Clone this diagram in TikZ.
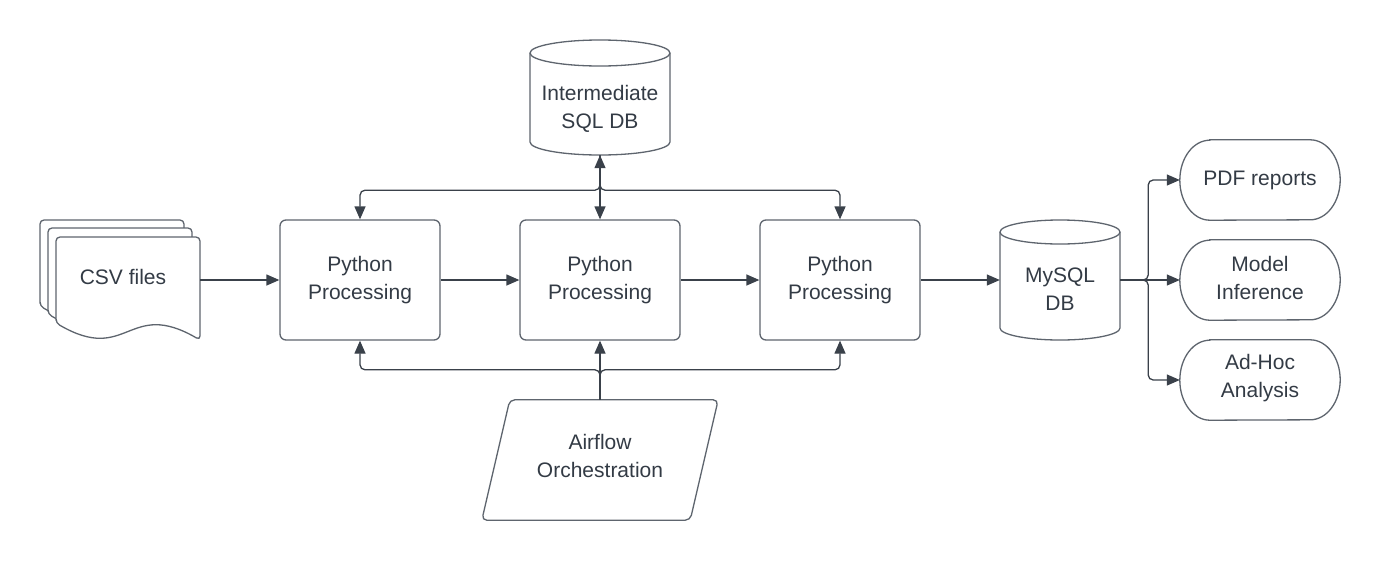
\documentclass[tikz,border=0pt]{standalone}
\usepackage{fontspec}
\setmainfont{Liberation Sans}
\usetikzlibrary{arrows.meta,calc}
\definecolor{linec}{HTML}{3A414A}
\definecolor{boxc}{HTML}{5E656E}
\definecolor{textc}{HTML}{333B45}
\tikzset{
  box/.style={draw=boxc, line width=1.3pt, fill=white},
  frame/.style={draw=none, inner sep=0pt},
  lbl/.style={text=textc, align=center, font=\fontsize{21}{27.5}\selectfont},
  arr/.style={draw=linec, line width=1.3pt, -{Triangle[length=13pt,width=11pt]}},
  arrb/.style={draw=linec, line width=1.3pt, {Triangle[length=13pt,width=11pt]}-{Triangle[length=13pt,width=11pt]}},
}
\newcommand\docshape{%
  \draw[box, rounded corners=4pt] (56,323) -- (56,237) -- (200,237) -- (200,340)
    .. controls (128,298) and (128,365) .. (56,323) -- cycle;}
\newcommand\stadshape[1]{%
  \draw[box] ([xshift=30pt]#1.north west) -- ([xshift=-30pt]#1.north east)
    arc[start angle=90,end angle=-90,x radius=30pt,y radius=40pt]
    -- ([xshift=30pt]#1.south west)
    arc[start angle=270,end angle=90,x radius=30pt,y radius=40pt] -- cycle;}
\newcommand\cylshape[5]{% left right topcenter bottomcenter ry
  \draw[box] (#1,#3) -- (#1,#4) arc[start angle=180,end angle=360,x radius={(#2-#1)/2*1pt},y radius=#5pt]
    -- (#2,#3) arc[start angle=0,end angle=180,x radius={(#2-#1)/2*1pt},y radius=#5pt] -- cycle;
  \draw[draw=boxc, line width=1.3pt] (#1,#3) arc[start angle=180,end angle=360,x radius={(#2-#1)/2*1pt},y radius=#5pt];}
\begin{document}
\begin{tikzpicture}[x=1pt,y=-1pt]
\useasboundingbox[fill=white] (0,0) rectangle (1380,560);

% CSV stack
\begin{scope}[shift={(-16,-17)}]\docshape\end{scope}
\begin{scope}[shift={(-8,-9)}]\docshape\end{scope}
\docshape
\node[frame, minimum width=144pt, minimum height=103pt] (csv) at (128,288.5) {};
\node[lbl] (csvt) at (123,277) {CSV files};

% Python processing boxes
\node[box, rounded corners=6pt, minimum width=160pt, minimum height=120pt, lbl] (p1) at (360,280) {Python\\Processing};
\node[box, rounded corners=6pt, minimum width=160pt, minimum height=120pt, lbl] (p2) at (600,280) {Python\\Processing};
\node[box, rounded corners=6pt, minimum width=160pt, minimum height=120pt, lbl] (p3) at (840,280) {Python\\Processing};

% Intermediate DB
\cylshape{530}{670}{53}{142}{13}
\node[frame, minimum width=140pt, minimum height=115pt] (idb) at (600,97.5) {};
\node[lbl] (idbt) at (600,109) {Intermediate\\SQL DB};

% MySQL DB
\cylshape{1000}{1120}{232}{328}{12}
\node[frame, minimum width=120pt, minimum height=120pt] (mysql) at (1060,280) {};
\node[lbl] (mysqlt) at (1060,289) {MySQL\\DB};

% Airflow
\node[frame, minimum width=208pt, minimum height=120pt] (air) at (600,460) {};
\draw[box, rounded corners=5pt] ($(air.north west)+(14pt,0)$) -- ($(air.north east)+(14pt,0)$)
  -- ($(air.south east)+(-14pt,0)$) -- ($(air.south west)+(-14pt,0)$) -- cycle;
\node[lbl] (airt) at (600,456) {Airflow\\Orchestration};

% Outputs
\node[frame, minimum width=160pt, minimum height=80pt] (pdf) at (1260,180) {};
\node[frame, minimum width=160pt, minimum height=80pt] (model) at (1260,280) {};
\node[frame, minimum width=160pt, minimum height=80pt] (adhoc) at (1260,380) {};
\stadshape{pdf}\stadshape{model}\stadshape{adhoc}
\node[lbl] at (pdf) {PDF reports};
\node[lbl] at ([yshift=2pt]model.center) {Model\\Inference};
\node[lbl] at ([yshift=2pt]adhoc.center) {Ad-Hoc\\Analysis};

% Connectors
\draw[arr] (csv.east |- p1.west) -- (p1.west);
\draw[arr] (p1.east) -- (p2.west);
\draw[arr] (p2.east) -- (p3.west);
\draw[arr] (p3.east) -- (mysql.west);

\draw[arrb] (idb.south) -- (p2.north);
\draw[arr, rounded corners=5pt] (idb.south) -- ++(0,35) -| (p1.north);
\draw[arr, rounded corners=5pt] (idb.south) -- ++(0,35) -| (p3.north);

\draw[arr] (air.north) -- (p2.south);
\draw[arr, rounded corners=5pt] (air.north) -- ++(0,-30) -| (p1.south);
\draw[arr, rounded corners=5pt] (air.north) -- ++(0,-30) -| (p3.south);

\draw[arr] (mysql.east) -- (model.west);
\draw[arr, rounded corners=5pt] (mysql.east) -- ++(28,0) |- (pdf.west);
\draw[arr, rounded corners=5pt] (mysql.east) -- ++(28,0) |- (adhoc.west);
\end{tikzpicture}
\end{document}
